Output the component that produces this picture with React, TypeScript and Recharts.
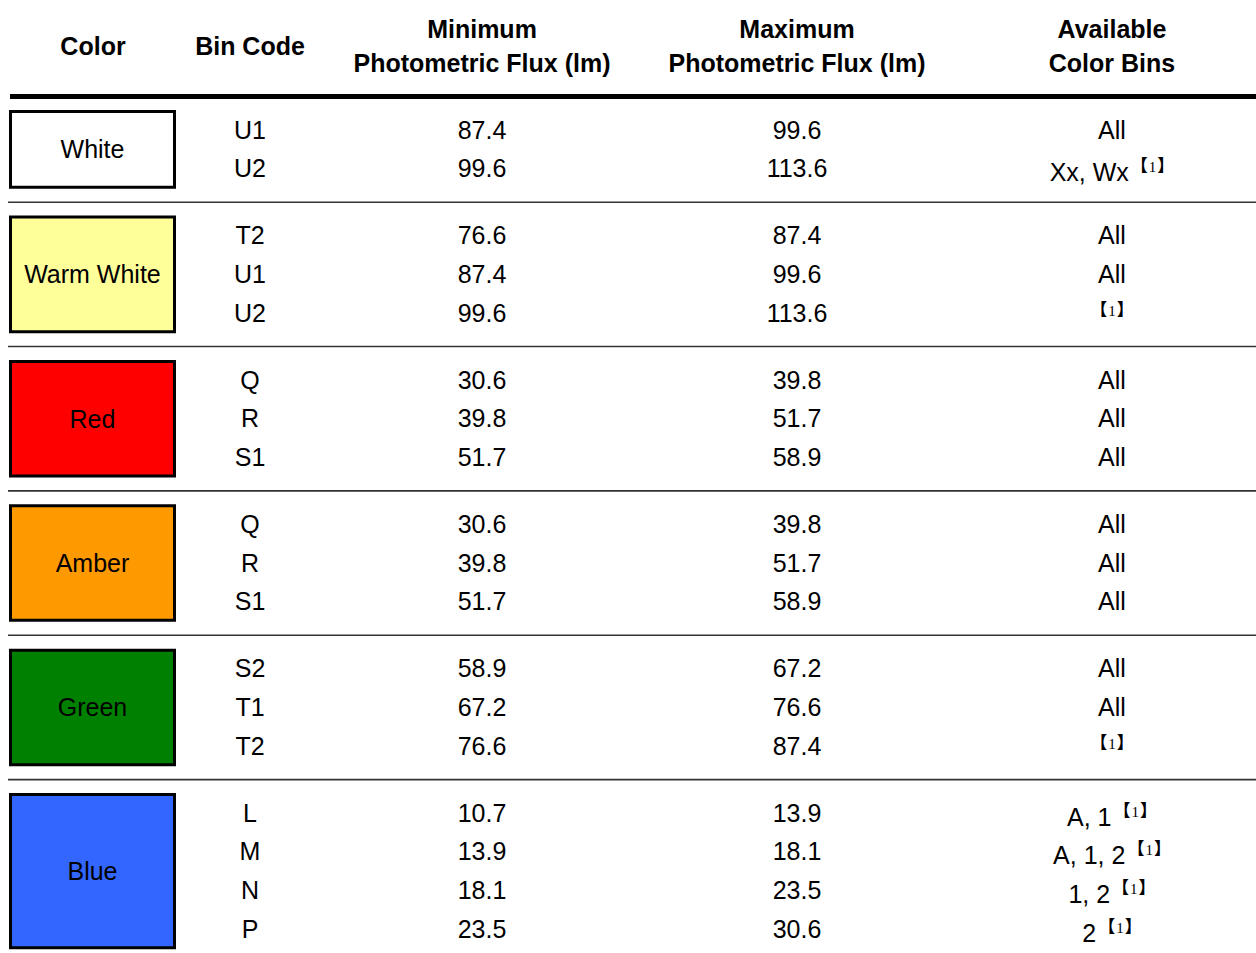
import {
  ScatterChart,
  Scatter,
  XAxis,
  YAxis,
  ReferenceArea,
  ReferenceLine,
} from "recharts";

// table content
const colorNames = ["White", "Warm White", "Red", "Amber", "Green", "Blue"];
const binCodes = [
  ["U1", "U2"],
  ["T2", "U1", "U2"],
  ["Q", "R", "S1"],
  ["Q", "R", "S1"],
  ["S2", "T1", "T2"],
  ["L", "M", "N", "P"],
];
const minFlux = [
  [87.4, 99.6],
  [76.6, 87.4, 99.6],
  [30.6, 39.8, 51.7],
  [30.6, 39.8, 51.7],
  [58.9, 67.2, 76.6],
  [10.7, 13.9, 18.1, 23.5],
];
const maxFlux = [
  [99.6, 113.6],
  [87.4, 99.6, 113.6],
  [39.8, 51.7, 58.9],
  [39.8, 51.7, 58.9],
  [67.2, 76.6, 87.4],
  [13.9, 18.1, 23.5, 30.6],
];
const availableBins = [
  ["All", "Xx, Wx"],
  ["All", "All", ""],
  ["All", "All", "All"],
  ["All", "All", "All"],
  ["All", "All", ""],
  ["A, 1", "A, 1, 2", "1, 2", "2"],
];
const footnoteFlags = [
  [false, true],
  [false, false, true],
  [false, false, false],
  [false, false, false],
  [false, false, true],
  [true, true, true, true],
];
const columnHeaders = [
  ["Color"],
  ["Bin Code"],
  ["Minimum", "Photometric Flux (lm)"],
  ["Maximum", "Photometric Flux (lm)"],
  ["Available", "Color Bins"],
];

// styles / layout
const swatchFills = ["#ffffff", "#ffff99", "#ff0000", "#ff9900", "#008000", "#3366ff"];
const FONT = '"Liberation Sans", Arial, Helvetica, sans-serif';
const BRACKET_FONT = '"Noto Sans CJK JP", "Noto Sans CJK SC", sans-serif';
const NOTE_FONT = '"Liberation Serif", serif';
const FS = 25;
const BASE = 8.5;
const WIDTH = 1248;
const HEIGHT = 945;
const COL_X = [85, 242, 474, 789, 1104];
const GROUP_GAP = 0.73;
const Y_DOMAIN = [-3.1525, 21.266];
const HEADER_Y = -2.145;

// row position of every line, in row units
const groupRows: number[][] = [];
let rowIndex = 0;
binCodes.forEach((codes, g) => {
  groupRows.push(codes.map(() => rowIndex++ + g * GROUP_GAP));
});

const cellsFor = (col: number, values: (string | number)[][], notes?: boolean[][]) =>
  values.flatMap((group, g) =>
    group.map((v, i) => ({
      x: COL_X[col],
      y: groupRows[g][i],
      text: typeof v === "number" ? v.toFixed(1) : v,
      note: notes ? notes[g][i] : false,
    }))
  );

const binCells = cellsFor(1, binCodes);
const minCells = cellsFor(2, minFlux);
const maxCells = cellsFor(3, maxFlux);
const availCells = cellsFor(4, availableBins, footnoteFlags);
const headerCells = columnHeaders.map((lines, i) => ({ x: COL_X[i], y: HEADER_Y, lines }));

const separators = groupRows.slice(0, -1).map((rows) => rows[rows.length - 1] + (1 + GROUP_GAP) / 2);

// the 【1】 footnote marker
const noteSpans = (first: { dx?: number; dy?: number }) => [
  <tspan key="l" dx={first.dx} dy={first.dy} fontSize={17} fontWeight="bold" fontFamily={BRACKET_FONT}>
    {"\u3010"}
  </tspan>,
  <tspan key="n" dx={1} fontSize={15} fontFamily={NOTE_FONT}>
    1
  </tspan>,
  <tspan key="r" dx={1} fontSize={17} fontWeight="bold" fontFamily={BRACKET_FONT}>
    {"\u3011"}
  </tspan>,
];

function CellLabel(props: any) {
  const { cx, cy, payload } = props;
  if (cx == null || cy == null) return null;
  const { text, note } = payload;
  if (!note) {
    return (
      <text x={cx} y={cy + BASE} textAnchor="middle" fontSize={FS} fontFamily={FONT} fill="#000">
        {text}
      </text>
    );
  }
  if (!text) {
    return (
      <text x={cx} y={cy + 3} textAnchor="middle" fontSize={FS} fontFamily={FONT} fill="#000">
        {noteSpans({})}
      </text>
    );
  }
  return (
    <text x={cx} y={cy + BASE + 4} textAnchor="middle" fontSize={FS} fontFamily={FONT} fill="#000">
      <tspan>{text}</tspan>
      {noteSpans({ dx: 2, dy: -9 })}
    </text>
  );
}

function HeaderLabel(props: any) {
  const { cx, cy, payload } = props;
  if (cx == null || cy == null) return null;
  const lines: string[] = payload.lines;
  return (
    <text textAnchor="middle" fontSize={FS} fontWeight="bold" fontFamily={FONT} fill="#000">
      {lines.map((line, i) => (
        <tspan key={i} x={cx} y={cy + BASE + (i - (lines.length - 1) / 2) * 34}>
          {line}
        </tspan>
      ))}
    </text>
  );
}

export default function App() {
  return (
    <div style={{ position: "absolute", left: 8, top: 8, width: WIDTH, height: HEIGHT }}>
      <ScatterChart width={WIDTH} height={HEIGHT} margin={{ top: 0, right: 0, bottom: 0, left: 0 }}>
        <XAxis type="number" dataKey="x" domain={[0, WIDTH]} hide allowDataOverflow />
        <YAxis type="number" dataKey="y" domain={Y_DOMAIN} reversed hide allowDataOverflow />

        <ReferenceLine
          segment={[
            { x: 2, y: -0.865 },
            { x: WIDTH, y: -0.865 },
          ]}
          stroke="#000"
          strokeWidth={5}
        />
        {separators.map((y) => (
          <ReferenceLine
            key={y}
            segment={[
              { x: 0, y },
              { x: WIDTH, y },
            ]}
            stroke="#333"
            strokeWidth={1.6}
          />
        ))}

        {colorNames.map((name, g) => (
          <ReferenceArea
            key={name}
            x1={2.5}
            x2={166.5}
            y1={groupRows[g][0] - 0.48}
            y2={groupRows[g][groupRows[g].length - 1] + 0.48}
            fill={swatchFills[g]}
            fillOpacity={1}
            stroke="#000"
            strokeWidth={3}
            label={{ value: name, position: "center", fill: "#000", fontSize: FS, fontFamily: FONT }}
          />
        ))}

        <Scatter data={headerCells} shape={HeaderLabel} isAnimationActive={false} />
        <Scatter data={binCells} shape={CellLabel} isAnimationActive={false} />
        <Scatter data={minCells} shape={CellLabel} isAnimationActive={false} />
        <Scatter data={maxCells} shape={CellLabel} isAnimationActive={false} />
        <Scatter data={availCells} shape={CellLabel} isAnimationActive={false} />
      </ScatterChart>
    </div>
  );
}
